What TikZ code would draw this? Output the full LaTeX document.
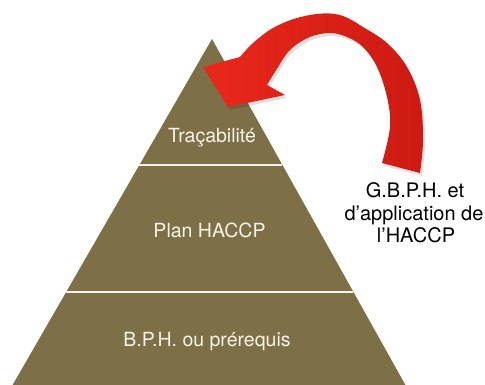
\documentclass[tikz,border=0pt]{standalone}
\usepackage{fontspec}
\setmainfont{TeX Gyre Heros}
\definecolor{olive}{RGB}{126,112,70}
\definecolor{cream}{RGB}{246,243,232}
\definecolor{redL}{RGB}{234,40,28}
\definecolor{redR}{RGB}{204,26,18}
\begin{document}
\begin{tikzpicture}[x=1pt,y=-1pt,
  lvl/.style={font=\fontsize{19.5}{22}\selectfont, text=cream, anchor=base, inner sep=0pt},
  side/.style={font=\fontsize{20}{22.5}\selectfont, text=black, anchor=base, inner sep=0pt},
  divider/.style={draw=cream, line width=2.5pt}]
\useasboundingbox (0,0) rectangle (485,385);
% pyramid
\coordinate (apex) at (212,39);
\coordinate (bl) at (12,386);
\coordinate (br) at (406,386);
\fill[olive] (apex) -- (br) -- (bl) -- cycle;
\coordinate (d1l) at (139.4,165);
\coordinate (d1r) at (282.4,165);
\coordinate (d2l) at (66.3,292);
\coordinate (d2r) at (353.4,292);
\draw[divider] (d1l) -- (d1r);
\draw[divider] (d2l) -- (d2r);
% labels
\node[lvl] (trac) at (212,143) {Traçabilité};
\node[lvl] (plan) at (209.5,237) {Plan HACCP};
\node[lvl] (bph) at (207,346) {B.P.H. ou prérequis};
\node[side] (g1) at (415,198) {G.B.P.H. et};
\node[side] (g2) at (414,220.5) {d’application de};
\node[side] (g3) at (416,243) {l’HACCP};
% arrow shadow
\fill[black, opacity=0.12, shift={(2,3)}]
  plot[smooth, tension=0.6] coordinates {(420,173) (423,140) (420,100) (407,67) (387,43) (363,27) (343,16) (323,13.5) (297,18) (273,28) (253,43) (240,57)}
  -- (203,67) -- (228,107) -- (285,95) -- (267,85)
  -- plot[smooth, tension=0.6] coordinates {(267,85) (275,72) (290,50) (310,37) (330,33) (347,37) (363,47) (377,67) (387,97) (390,127) (382,163)}
  -- cycle;
% arrow
\shade[left color=redL, right color=redR]
  plot[smooth, tension=0.6] coordinates {(420,173) (423,140) (420,100) (407,67) (387,43) (363,27) (343,16) (323,13.5) (297,18) (273,28) (253,43) (240,57)}
  -- (203,67) -- (228,107) -- (285,95) -- (267,85)
  -- plot[smooth, tension=0.6] coordinates {(267,85) (275,72) (290,50) (310,37) (330,33) (347,37) (363,47) (377,67) (387,97) (390,127) (382,163)}
  -- cycle;
\end{tikzpicture}
\end{document}
